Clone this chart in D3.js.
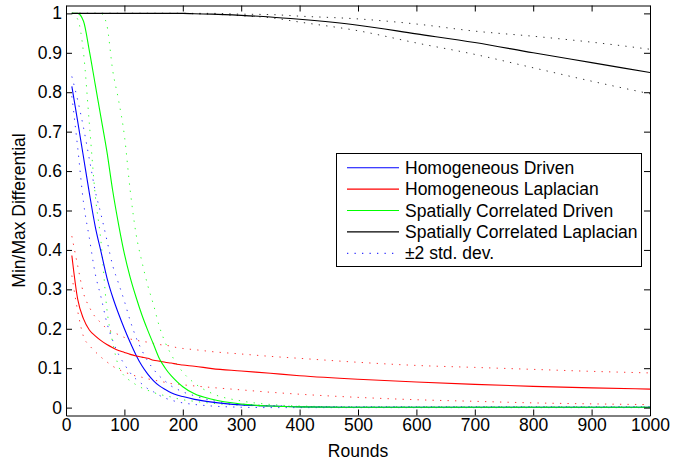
<!DOCTYPE html>
<html>
<head>
<meta charset="utf-8">
<script src="https://cdn.jsdelivr.net/npm/d3@7"></script>
<style>
  body { margin: 0; background: #fff; }
  text { font-family: "Liberation Sans", Arial, Helvetica, sans-serif; }
</style>
</head>
<body>
<svg id="chart" width="686" height="461"></svg>
<script>
var rounds = [10, 20, 30, 40, 50, 60, 70, 80, 90, 100, 110, 120, 130, 140, 150, 160, 170, 180, 190, 200,
    220, 250, 300, 350, 400, 500, 600, 700, 800, 900, 1000];

// Homogeneous Driven
var hdMean = [.815, .726, .635, .544, .46, .395, .33, .28, .238, .2, .165, .133, .106, .085, .068, .055, .046, .038, .032, .028,
    .021, .014, .007, .004, .002, .001, .001, .001, .001, .001, .001];
var hdHi = [.84, .78, .71, .63, .55, .49, .425, .36, .315, .27, .22, .178, .145, .118, .097, .08, .067, .055, .047, .04,
    .03, .018, .009, .005, .003, .002, .002, .002, .002, .002, .002];
var hdLo = [.79, .66, .52, .43, .34, .28, .215, .17, .135, .11, .088, .072, .06, .048, .04, .031, .024, .019, .015, .012,
    .008, .004, .001, 0, 0, 0, 0, 0, 0, 0, 0];

// Homogeneous Laplacian
var hlMean = [.386, .275, .225, .197, .182, .17, .16, .152, .145, .14, .135, .131, .128, .125, .12, .118, .115, .113, .11, .108,
    .105, .099, .093, .087, .081, .072, .065, .059, .054, .05, .047];
var hlHi = [.435, .36, .29, .255, .23, .215, .2, .192, .185, .178, .174, .171, .168, .166, .163, .16, .158, .156, .152, .15,
    .147, .142, .136, .13, .125, .115, .107, .102, .097, .092, .088];
var hlLo = [.335, .245, .18, .158, .142, .128, .116, .105, .097, .09, .085, .08, .077, .073, .07, .067, .064, .061, .06, .058,
    .055, .051, .045, .039, .034, .026, .02, .016, .012, .0095, .0076];

// Spatially Correlated Driven
var scdMean = [1, 1, .98, .905, .82, .735, .65, .55, .465, .39, .33, .28, .235, .196, .16, .124, .1, .081, .066, .053,
    .035, .021, .009, .004, .002, .001, .001, .001, .001, .001, .001];
var scdHi = [1, 1, 1, 1, 1, 1, .97, .855, .78, .69, .55, .44, .37, .31, .26, .205, .165, .135, .11, .09,
    .062, .036, .017, .008, .004, .002, .002, .002, .002, .002, .002];
var scdLo = [1, .985, .9, .72, .54, .42, .25, .165, .105, .08, .068, .058, .05, .044, .038, .034, .03, .027, .023, .02,
    .016, .011, .006, .004, .002, .001, .001, .001, .001, .001, .001];

// Spatially Correlated Laplacian
var sclMean = [1, 1, 1, 1, 1, 1, 1, 1, 1, 1, 1, 1, 1, 1, 1, 1, 1, 1, 1, 1,
    .999, .998, .995, .991, .985, .97, .948, .926, .9, .875, .85];
var sclHi = [1, 1, 1, 1, 1, 1, 1, 1, 1, 1, 1, 1, 1, 1, 1, 1, 1, 1, 1, 1,
    1, 1, .998, .997, .993, .986, .973, .955, .942, .927, .909];
var sclLo = [1, 1, 1, 1, 1, 1, 1, 1, 1, 1, 1, 1, 1, 1, 1, 1, 1, 1, 1, 1,
    .999, .998, .994, .989, .978, .956, .925, .896, .862, .828, .796];

var seriesNames = ["Homogeneous Driven", "Homogeneous Laplacian", "Spatially Correlated Driven", "Spatially Correlated Laplacian"];
var seriesColors = ["#0000ff", "#ff0000", "#00ff00", "#000000"];
var xTicks = [0, 100, 200, 300, 400, 500, 600, 700, 800, 900, 1000];
var yTicks = [0, 0.1, 0.2, 0.3, 0.4, 0.5, 0.6, 0.7, 0.8, 0.9, 1];

var svg = d3.select("#chart");
var plot = { left: 66, right: 650, top: 5.5, bottom: 415.5 };

var x = d3.scaleLinear().domain([0, 1000]).range([plot.left, plot.right]);
var y = d3.scaleLinear().domain([-0.02, 1.02]).range([plot.bottom, plot.top]);

var means = [hdMean, hlMean, scdMean, sclMean];
var bands = [[hdHi, hdLo], [hlHi, hlLo], [scdHi, scdLo], [sclHi, sclLo]];

var line = d3.line()
    .x(function (d) { return x(d[0]); })
    .y(function (d) { return y(d[1]); })
    .curve(d3.curveMonotoneX);

function pairs(vals) {
    return rounds.map(function (r, i) { return [r, vals[i]]; });
}

svg.append("clipPath").attr("id", "clip")
    .append("rect")
    .attr("x", plot.left).attr("y", plot.top)
    .attr("width", plot.right - plot.left).attr("height", plot.bottom - plot.top);

var g = svg.append("g").attr("clip-path", "url(#clip)");

// std dev dotted lines
bands.forEach(function (b, i) {
    b.forEach(function (vals) {
        g.append("path")
            .attr("d", line(pairs(vals)))
            .attr("fill", "none")
            .attr("stroke", seriesColors[i])
            .attr("stroke-width", 1)
            .attr("stroke-opacity", 0.8)
            .attr("stroke-dasharray", "1.3,6.2");
    });
});

// mean lines
means.forEach(function (vals, i) {
    g.append("path")
        .attr("d", line(pairs(vals)))
        .attr("fill", "none")
        .attr("stroke", seriesColors[i])
        .attr("stroke-width", 1.1);
});

// axes, ticks pointing in on all four sides
svg.append("g")
    .attr("transform", "translate(0," + plot.bottom + ")")
    .call(d3.axisBottom(x).tickValues(xTicks).tickSizeInner(-6).tickSizeOuter(0).tickPadding(3).tickFormat(d3.format("d")));
svg.append("g")
    .attr("transform", "translate(0," + plot.top + ")")
    .call(d3.axisTop(x).tickValues(xTicks).tickSizeInner(-6).tickSizeOuter(0).tickFormat(""));
svg.append("g")
    .attr("transform", "translate(" + plot.left + ",0)")
    .call(d3.axisLeft(y).tickValues(yTicks).tickSizeInner(-6).tickSizeOuter(0).tickPadding(4).tickFormat(d3.format("")));
svg.append("g")
    .attr("transform", "translate(" + plot.right + ",0)")
    .call(d3.axisRight(y).tickValues(yTicks).tickSizeInner(-6).tickSizeOuter(0).tickFormat(""));

svg.selectAll(".tick text")
    .style("font-size", "17.5px")
    .style("font-family", "'Liberation Sans', Arial, sans-serif")
    .attr("fill", "#000");
svg.selectAll(".domain, .tick line").attr("stroke", "#000");

// axis titles
svg.append("text")
    .attr("x", (plot.left + plot.right) / 2)
    .attr("y", 457)
    .attr("text-anchor", "middle")
    .style("font-size", "17.5px")
    .text("Rounds");

svg.append("text")
    .attr("transform", "translate(25," + ((plot.top + plot.bottom) / 2) + ") rotate(-90)")
    .attr("text-anchor", "middle")
    .style("font-size", "17.5px")
    .text("Min/Max Differential");

// legend
var legend = svg.append("g");
legend.append("rect")
    .attr("x", 336.5).attr("y", 153.5)
    .attr("width", 305).attr("height", 113)
    .attr("fill", "#fff").attr("stroke", "#000").attr("stroke-width", 1);

var legendItems = seriesNames.concat(["±2 std. dev."]);
legendItems.forEach(function (name, i) {
    var ly = 167.7 + i * 21.4;
    legend.append("line")
        .attr("x1", 347).attr("x2", 399)
        .attr("y1", ly).attr("y2", ly)
        .attr("stroke", i < 4 ? seriesColors[i] : seriesColors[0])
        .attr("stroke-width", i < 4 ? 1.1 : 1)
        .attr("stroke-dasharray", i < 4 ? null : "1.3,6.2");
    legend.append("text")
        .attr("x", 405).attr("y", ly)
        .attr("dy", "0.35em")
        .style("font-size", "17.5px")
        .text(name);
});
</script>
</body>
</html>
